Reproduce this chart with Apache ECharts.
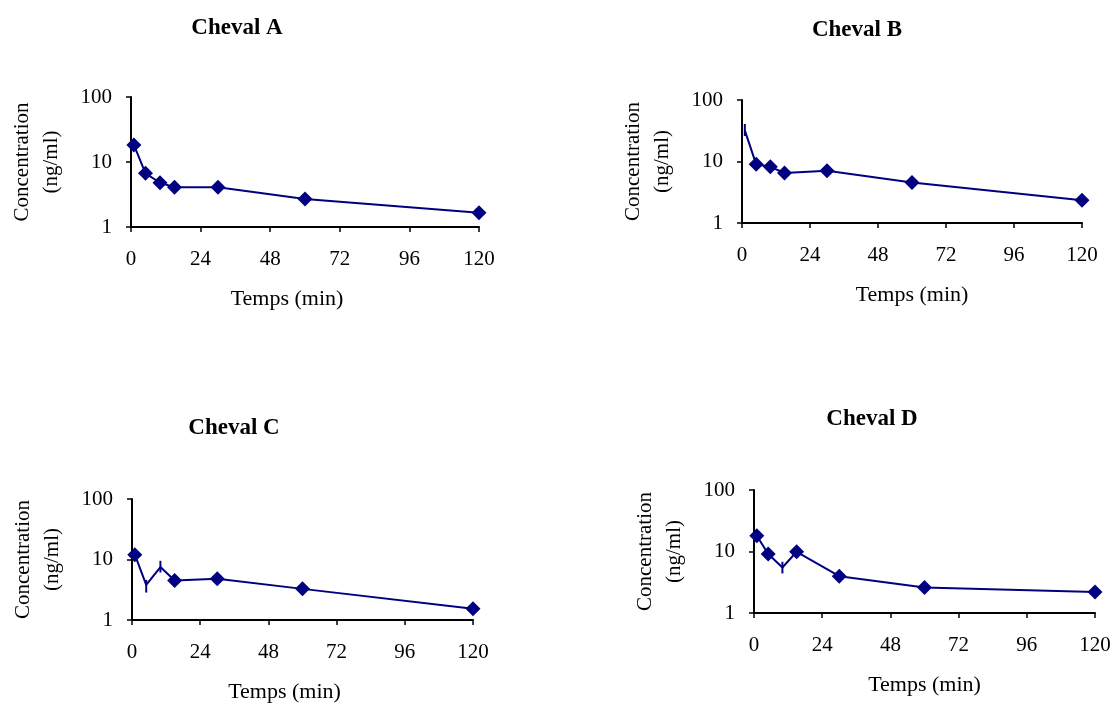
<!DOCTYPE html>
<html>
<head>
<meta charset="utf-8">
<script src="https://cdn.jsdelivr.net/npm/echarts@6/dist/echarts.min.js"></script>
<style>
html,body{margin:0;padding:0;background:#fff;}
#c{width:1114px;height:705px;}
</style>
</head>
<body>
<div id="c"></div>
<script>
// ---- data ----
var titles = ['Cheval A', 'Cheval B', 'Cheval C', 'Cheval D'];
var times = [1, 5, 10, 15, 30, 60, 120];
var concA = [18.3, 6.7, 4.8, 4.1, 4.1, 2.7, 1.66];
var concB = [32, 9.0, 8.2, 6.5, 7.05, 4.56, 2.35];
var concC = [12, 3.8, 7.5, 4.5, 4.8, 3.27, 1.54];
var concD = [18, 9.1, 5.5, 9.9, 3.97, 2.6, 2.2];
// indices of points drawn without a diamond marker
var noMarkerA = [];
var noMarkerB = [0];
var noMarkerC = [1, 2];
var noMarkerD = [2];
// visible error bars: [time, low, high]
var errA = [];
var errB = [[1, 26, 40.7]];
var errC = [[5, 2.84, 4.6], [10, 6.1, 9.5]];
var errD = [[10, 4.4, 6.8]];
var xTicks = [0, 24, 48, 72, 96, 120];
var yTicks = [1, 10, 100];
var xName = 'Temps (min)';
var yName = 'Concentration\n(ng/ml)';

var concs = [concA, concB, concC, concD];
var noMarkers = [noMarkerA, noMarkerB, noMarkerC, noMarkerD];
var errs = [errA, errB, errC, errD];

// ---- layout ----
var grids = [
  {left: 131, top: 97, width: 348, height: 130},
  {left: 742, top: 100, width: 340, height: 123},
  {left: 132, top: 499, width: 341, height: 121},
  {left: 754, top: 490, width: 341, height: 123}
];
var titlePos = [[232, 12], [852, 14], [229, 412], [867, 403]];
var xNameShift = [36, 0, 36, 0];
var navy = '#000080';
var font = '"Liberation Serif", "Times New Roman", serif';

var option = {
  backgroundColor: '#fff',
  animation: false,
  title: titles.map(function (t, i) {
    return {
      text: t, left: titlePos[i][0], top: titlePos[i][1], textAlign: 'center',
      textStyle: {fontFamily: font, fontWeight: 'bold', fontSize: 23, color: '#000'}
    };
  }),
  grid: grids,
  xAxis: grids.map(function (g, i) {
    return {
      gridIndex: i, type: 'value', min: xTicks[0], max: xTicks[xTicks.length - 1], interval: 24,
      name: xName, nameLocation: 'middle', nameGap: 61,
      nameTextStyle: {fontFamily: font, fontSize: 22, color: '#000', padding: [0, xNameShift[i], 0, 0]},
      axisLine: {lineStyle: {color: '#000', width: 2}},
      axisTick: {show: true, length: 5, lineStyle: {color: '#000', width: 1.5}},
      axisLabel: {margin: 22, fontFamily: font, fontSize: 21, color: '#000'},
      splitLine: {show: false}
    };
  }),
  yAxis: grids.map(function (g, i) {
    return {
      gridIndex: i, type: 'log', logBase: 10, min: yTicks[0], max: yTicks[yTicks.length - 1],
      name: yName, nameLocation: 'middle', nameRotate: 90, nameGap: 65,
      nameTextStyle: {fontFamily: font, fontSize: 21, color: '#000', lineHeight: 29},
      axisLine: {show: true, lineStyle: {color: '#000', width: 2}},
      axisTick: {show: true, length: 5, lineStyle: {color: '#000', width: 1.5}},
      axisLabel: {margin: 19, fontFamily: font, fontSize: 21, color: '#000'},
      splitLine: {show: false}
    };
  }),
  series: []
};

concs.forEach(function (arr, i) {
  option.series.push({
    type: 'line', xAxisIndex: i, yAxisIndex: i,
    data: arr.map(function (v, k) {
      var item = {value: [times[k], v]};
      if (noMarkers[i].indexOf(k) >= 0) item.symbol = 'none';
      return item;
    }),
    symbol: 'diamond', symbolSize: 15,
    lineStyle: {color: navy, width: 2},
    itemStyle: {color: navy},
    z: 3
  });
  option.series.push({
    type: 'custom', xAxisIndex: i, yAxisIndex: i,
    data: errs[i],
    renderItem: function (params, api) {
      var p1 = api.coord([api.value(0), api.value(1)]);
      var p2 = api.coord([api.value(0), api.value(2)]);
      return {
        type: 'line',
        shape: {x1: p1[0], y1: p1[1], x2: p2[0], y2: p2[1]},
        style: {stroke: navy, lineWidth: 2}
      };
    },
    z: 4
  });
});

var chart = echarts.init(document.getElementById('c'));
chart.setOption(option);
</script>
</body>
</html>
